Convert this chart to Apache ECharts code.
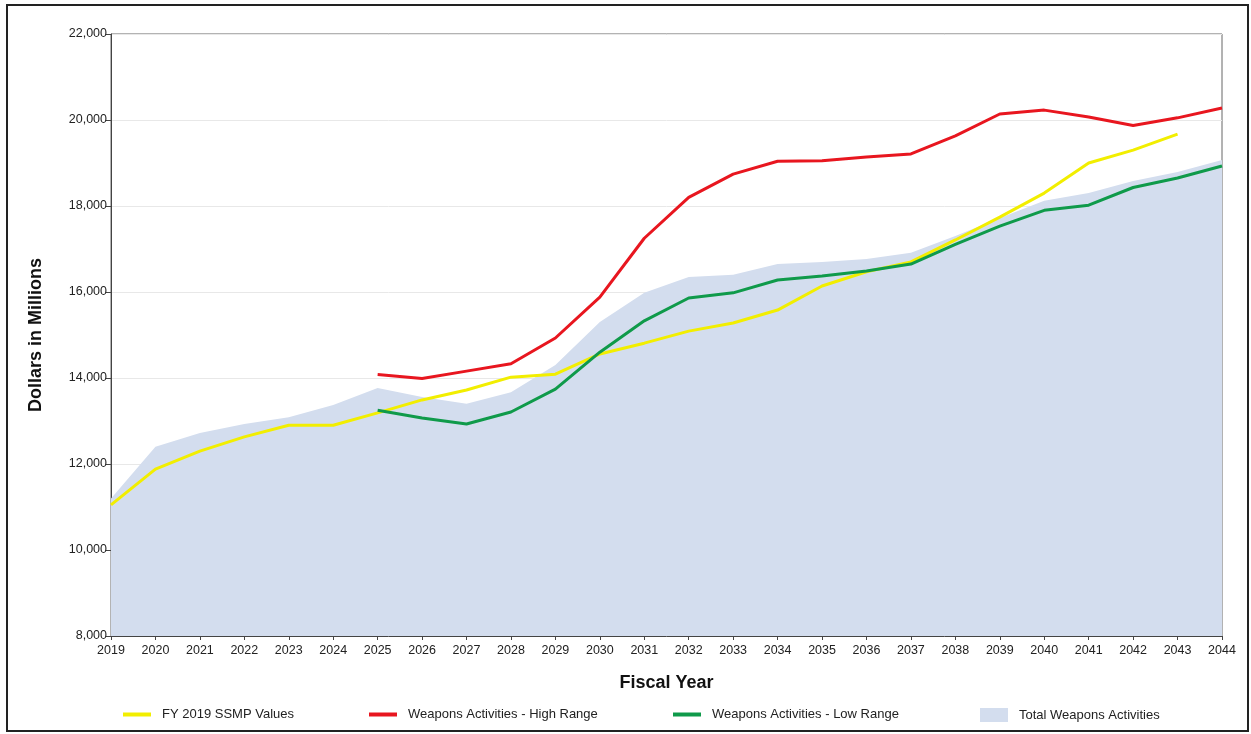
<!DOCTYPE html>
<html>
<head>
<meta charset="utf-8">
<script src="https://cdn.jsdelivr.net/npm/echarts@6/dist/echarts.min.js"></script>
<style>
html, body { margin: 0; padding: 0; background: #ffffff; }
#container { width: 1251px; height: 734px; }
</style>
</head>
<body>
<div id="container"></div>
<script type="text/javascript">
// fiscal years
var years = ['2019','2020','2021','2022','2023','2024','2025','2026','2027','2028','2029','2030','2031',
             '2032','2033','2034','2035','2036','2037','2038','2039','2040','2041','2042','2043','2044'];

// FY 2019 SSMP Values
var ssmpValues = [11050, 11880, 12300, 12630, 12900, 12900, 13190, 13490, 13720, 14020, 14090, 14560, 14810,
                  15090, 15280, 15580, 16140, 16470, 16700, 17210, 17740, 18300, 19000, 19300, 19670, null];

// Weapons Activities - High Range
var highRange = [null, null, null, null, null, null, 14080, 13990, 14160, 14330, 14930, 15880, 17250,
                 18200, 18740, 19040, 19050, 19140, 19210, 19630, 20140, 20230, 20070, 19870, 20050, 20280];

// Weapons Activities - Low Range
var lowRange = [null, null, null, null, null, null, 13250, 13070, 12930, 13210, 13740, 14600, 15330,
                15860, 15980, 16280, 16370, 16490, 16650, 17110, 17530, 17900, 18020, 18430, 18650, 18930];

// Total Weapons Activities (shaded area)
var totalWeapons = [11200, 12400, 12720, 12930, 13090, 13370, 13770, 13560, 13400, 13670, 14300, 15300, 15980,
                    16350, 16400, 16650, 16700, 16770, 16910, 17300, 17720, 18120, 18300, 18580, 18790, 19070];

var dom = document.getElementById("container");
var myChart = echarts.init(dom);

var fontFam = 'Liberation Sans, Arial, sans-serif';
function legendItem(name, left, h) {
    return {
        data: [name],
        left: left,
        top: 703,
        icon: 'rect',
        itemWidth: 28,
        itemHeight: h,
        selectedMode: false,
        textStyle: { fontFamily: fontFam, fontSize: 13, color: '#222', padding: [0, 0, 0, 6] }
    };
}

var option = {
    animation: false,
    grid: {
        left: 111, right: 29, top: 34, bottom: 98,
        show: true,
        borderColor: '#666',
        borderWidth: 1
    },
    graphic: [{
        type: 'rect',
        shape: { x: 7, y: 5, width: 1241, height: 726 },
        style: { fill: 'none', stroke: '#222', lineWidth: 2 },
        silent: true
    }],
    legend: [
        legendItem('FY 2019 SSMP Values', 118, 4),
        legendItem('Weapons Activities - High Range', 364, 4),
        legendItem('Weapons Activities - Low Range', 668, 4),
        legendItem('Total Weapons Activities', 975, 14)
    ],
    xAxis: {
        type: 'category',
        data: years,
        boundaryGap: false,
        name: 'Fiscal Year',
        nameLocation: 'middle',
        nameGap: 38,
        nameTextStyle: { fontFamily: fontFam, fontSize: 18, fontWeight: 'bold', color: '#111' },
        axisLine: { lineStyle: { color: '#444' } },
        axisTick: { show: true, length: 4, lineStyle: { color: '#444' } },
        axisLabel: { fontFamily: fontFam, fontSize: 12.5, color: '#222', margin: 8, interval: 0 },
        splitLine: { show: false }
    },
    yAxis: {
        type: 'value',
        min: 8000,
        max: 22000,
        interval: 2000,
        name: 'Dollars in Millions',
        nameLocation: 'middle',
        nameGap: 66,
        nameTextStyle: { fontFamily: fontFam, fontSize: 18, fontWeight: 'bold', color: '#111' },
        axisLine: { show: true, lineStyle: { color: '#444' } },
        axisTick: { show: true, length: 5, lineStyle: { color: '#444' } },
        axisLabel: {
            fontFamily: fontFam, fontSize: 12.5, color: '#222', margin: 4,
            formatter: function (v) { return v.toLocaleString('en-US'); }
        },
        splitLine: { show: true, lineStyle: { color: '#e8e8e8', width: 1 } }
    },
    series: [
        {
            name: 'Total Weapons Activities',
            type: 'line',
            data: totalWeapons,
            symbol: 'none',
            itemStyle: { color: '#d3ddee' },
            lineStyle: { width: 0 },
            areaStyle: { color: '#d3ddee', opacity: 1 },
            z: 1
        },
        {
            name: 'FY 2019 SSMP Values',
            type: 'line',
            data: ssmpValues,
            symbol: 'none',
            itemStyle: { color: '#f2ee00' },
            lineStyle: { width: 3, color: '#f2ee00' },
            z: 3
        },
        {
            name: 'Weapons Activities - High Range',
            type: 'line',
            data: highRange,
            symbol: 'none',
            itemStyle: { color: '#e8161f' },
            lineStyle: { width: 3, color: '#e8161f' },
            z: 3
        },
        {
            name: 'Weapons Activities - Low Range',
            type: 'line',
            data: lowRange,
            symbol: 'none',
            itemStyle: { color: '#0f9a4a' },
            lineStyle: { width: 3, color: '#0f9a4a' },
            z: 4
        }
    ]
};

myChart.setOption(option, true);
</script>
</body>
</html>
